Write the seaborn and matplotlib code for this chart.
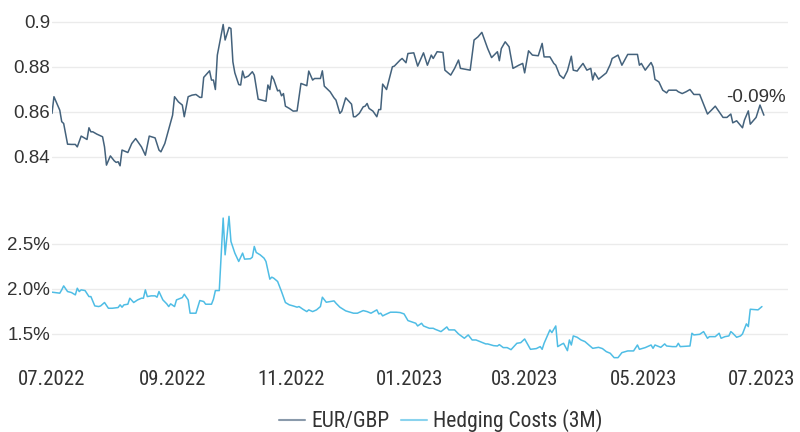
import matplotlib
matplotlib.use("Agg")
import matplotlib.pyplot as plt
from matplotlib.lines import Line2D
import pandas as pd
import seaborn as sns
import warnings
warnings.filterwarnings("ignore")

# ---------------- data ----------------
start_date = "2022-07-01"

eurgbp_days = [0, 1, 4, 5, 6, 8, 10, 12, 13, 15, 18, 19, 20, 21, 23, 26, 27, 28, 30, 32,
               33, 34, 35, 36, 39, 41, 43, 46, 48, 50, 53, 55, 56, 58, 62, 63, 65, 67, 68, 70,
               72, 74, 76, 77, 78, 81, 82, 83, 84, 85, 88, 89, 91, 92, 93, 94, 96, 97, 98, 99,
               101, 103, 104, 106, 109, 110, 111, 112, 113, 114, 116, 117, 118, 119, 120, 122, 124, 126, 128, 130,
               131, 132, 134, 135, 138, 139, 140, 143, 145, 146, 148, 149, 151, 154, 155, 156, 158, 160, 161, 162,
               163, 165, 167, 168, 169, 170, 172, 175, 176, 179,
               180, 182, 183, 186, 188, 191, 193, 195, 196, 198, 201, 202, 205, 207, 209, 210, 215, 217, 219, 221,
               224, 226, 229, 230, 231, 233, 235, 237, 240, 242, 243, 245, 247, 250, 252, 253, 256, 258, 259, 261,
               263, 265, 267, 268, 270, 271, 273, 275, 277, 278, 279, 281, 283, 285, 287, 288, 291, 293, 296, 301,
               302, 303, 305, 308, 309, 310, 312, 313, 314, 316, 317, 321, 322, 324, 326, 328, 330, 333, 335, 337,
               339, 341, 343, 345, 347, 349, 350, 352, 355, 356, 358, 359, 362, 364, 366]

eurgbp_values = [0.8593, 0.8667, 0.8607, 0.8556, 0.8548, 0.8456, 0.8455, 0.8455, 0.8444, 0.8492,
                 0.8477, 0.8529, 0.8511, 0.8511, 0.8501, 0.8489, 0.8444, 0.8363, 0.8404, 0.8382,
                 0.8375, 0.8378, 0.8360, 0.8430, 0.8419, 0.8459, 0.8481, 0.8444, 0.8407, 0.8492,
                 0.8484, 0.8430, 0.8422, 0.8459, 0.8585, 0.8667, 0.8644, 0.8630, 0.8578, 0.8667,
                 0.8674, 0.8677, 0.8664, 0.8664, 0.8753, 0.8782, 0.8741, 0.8741, 0.8699, 0.8852,
                 0.8988, 0.8919, 0.8975, 0.8970, 0.8822, 0.8773, 0.8721, 0.8719, 0.8781, 0.8751,
                 0.8759, 0.8778, 0.8763, 0.8656, 0.8649, 0.8647, 0.8719, 0.8699, 0.8759, 0.8744,
                 0.8693, 0.8696, 0.8671, 0.8681, 0.8625, 0.8615, 0.8603, 0.8604, 0.8726, 0.8719,
                 0.8716, 0.8781, 0.8741, 0.8748, 0.8748, 0.8782, 0.8714, 0.8689, 0.8662, 0.8652,
                 0.8593, 0.8603, 0.8662, 0.8634, 0.8578, 0.8578, 0.8593, 0.8622, 0.8625, 0.8637,
                 0.8615, 0.8603, 0.8578, 0.8610, 0.8610, 0.8723, 0.8699, 0.8800, 0.8803, 0.8830,
                 0.8837, 0.8818, 0.8859, 0.8862, 0.8803, 0.8862, 0.8807, 0.8852, 0.8837, 0.8867,
                 0.8864, 0.8785, 0.8763, 0.8793, 0.8830, 0.8793, 0.8785, 0.8919, 0.8933, 0.8953,
                 0.8881, 0.8841, 0.8867, 0.8827, 0.8881, 0.8911, 0.8889, 0.8793, 0.8807, 0.8815,
                 0.8773, 0.8871, 0.8852, 0.8849, 0.8904, 0.8844, 0.8844, 0.8815, 0.8807, 0.8763,
                 0.8748, 0.8782, 0.8847, 0.8785, 0.8781, 0.8793, 0.8815, 0.8785, 0.8793, 0.8741,
                 0.8773, 0.8745, 0.8759, 0.8773, 0.8810, 0.8837, 0.8852, 0.8807, 0.8855, 0.8855,
                 0.8807, 0.8815, 0.8785, 0.8819, 0.8800, 0.8744, 0.8733, 0.8714, 0.8696, 0.8684,
                 0.8696, 0.8696, 0.8689, 0.8681, 0.8689, 0.8699, 0.8677, 0.8677, 0.8633, 0.8590,
                 0.8607, 0.8625, 0.8600, 0.8575, 0.8575, 0.8590, 0.8551, 0.8560, 0.8529, 0.8563,
                 0.8604, 0.8545, 0.8575, 0.8630, 0.8585]

hedge_days = [0, 4, 5, 6, 8, 10, 12, 13, 14, 15, 17, 19, 20, 22, 24, 25, 27, 29, 31, 34,
              35, 36, 37, 39, 40, 42, 44, 46, 47, 48, 49, 51, 53, 54, 55, 57, 59, 60, 61, 63,
              64, 67, 68, 70, 71, 74, 76, 78, 79, 82, 83, 84, 86, 88, 89, 91, 92, 94, 96, 98,
              99, 102, 103, 104, 105, 107, 109, 110, 112, 113, 114, 116, 118, 120, 122, 124, 126, 127, 129, 131,
              132, 134, 136, 138, 139, 141, 143, 145, 146, 148, 151, 155, 157, 160, 162, 164, 167, 168, 169, 170,
              171, 174, 177, 179,
              181, 183, 187, 188, 190, 191, 194, 196, 197, 200, 203, 204, 207, 209, 212, 214, 216, 218, 223, 224,
              227, 229, 230, 232, 234, 236, 239, 241, 243, 246, 249, 251, 252, 253, 256, 257, 259, 260, 262, 263,
              265, 266, 267, 268, 270, 272, 274, 276, 278, 281, 283, 285, 287, 289, 291, 293, 296, 299, 301, 302,
              305, 308, 309, 310, 313, 315, 316, 319, 321, 322, 323, 328, 329, 330, 333, 335, 337, 338, 341, 343,
              344, 346, 348, 349, 350, 352, 354, 355, 357, 358, 359, 363, 365]

hedge_pct = [1.963, 1.952, 1.989, 2.033, 1.970, 1.959, 1.933, 2.007, 1.970, 1.989,
             1.981, 1.914, 1.914, 1.810, 1.803, 1.810, 1.848, 1.784, 1.784, 1.792,
             1.822, 1.796, 1.822, 1.829, 1.896, 1.848, 1.877, 1.896, 1.896, 1.989,
             1.914, 1.922, 1.922, 1.907, 1.970, 1.877, 1.833, 1.803, 1.833, 1.803,
             1.877, 1.903, 1.940, 1.877, 1.729, 1.729, 1.870, 1.859, 1.829, 1.829,
             1.885, 1.981, 1.981, 2.788, 2.379, 2.807, 2.528, 2.398, 2.305, 2.398,
             2.331, 2.335, 2.353, 2.472, 2.405, 2.379, 2.342, 2.305, 2.108, 2.130,
             2.119, 2.082, 1.970, 1.848, 1.822, 1.810, 1.796, 1.803, 1.773, 1.747,
             1.766, 1.747, 1.766, 1.803, 1.907, 1.851, 1.859, 1.866, 1.840, 1.796,
             1.755, 1.729, 1.729, 1.758, 1.747, 1.729, 1.766, 1.721, 1.729, 1.699,
             1.710, 1.740, 1.740, 1.736,
             1.721, 1.647, 1.617, 1.587, 1.617, 1.587, 1.561, 1.561, 1.550, 1.524,
             1.576, 1.543, 1.543, 1.498, 1.450, 1.487, 1.431, 1.431, 1.387, 1.387,
             1.368, 1.364, 1.379, 1.346, 1.346, 1.323, 1.394, 1.401, 1.442, 1.327,
             1.335, 1.357, 1.327, 1.394, 1.543, 1.513, 1.587, 1.357, 1.383, 1.394,
             1.312, 1.431, 1.375, 1.476, 1.461, 1.431, 1.413, 1.375, 1.338, 1.349,
             1.335, 1.301, 1.283, 1.234, 1.234, 1.290, 1.309, 1.309, 1.375, 1.327,
             1.346, 1.375, 1.338, 1.375, 1.349, 1.387, 1.364, 1.357, 1.357, 1.394,
             1.357, 1.364, 1.506, 1.487, 1.494, 1.524, 1.450, 1.468, 1.468, 1.506,
             1.450, 1.468, 1.476, 1.524, 1.506, 1.461, 1.476, 1.498, 1.610, 1.580,
             1.773, 1.766, 1.803]

series_names = ["EUR/GBP", "Hedging Costs (3M)"]
x_tick_dates = ["2022-07-01", "2022-09-01", "2022-11-01", "2023-01-01",
                "2023-03-01", "2023-05-01", "2023-07-01"]
x_tick_labels = ["07.2022", "09.2022", "11.2022", "01.2023", "03.2023", "05.2023", "07.2023"]
fx_ticks = [0.84, 0.86, 0.88, 0.9]
fx_tick_labels = ["0.84", "0.86", "0.88", "0.9"]
hedge_ticks = [1.5, 2.0, 2.5]
hedge_tick_labels = ["1.5%", "2.0%", "2.5%"]
last_change_label = "-0.09%"

# ---------------- style ----------------
fx_color = "#44627c"
hedge_color = "#4fbde5"
fx_legend_color = "#8a9aab"
hedge_legend_color = "#8ad3ee"
text_color = "#333333"
grid_color = "#ebebeb"

sns.set_style("white")
plt.rcParams["font.family"] = ["Liberation Sans", "DejaVu Sans"]
narrow = ["Liberation Sans Narrow", "Arial Narrow", "Roboto Condensed",
          "Archivo Narrow", "Liberation Sans", "DejaVu Sans"]

t0 = pd.Timestamp(start_date)
fx_df = pd.DataFrame({"date": t0 + pd.to_timedelta(eurgbp_days, unit="D"),
                      "value": eurgbp_values})
hd_df = pd.DataFrame({"date": t0 + pd.to_timedelta(hedge_days, unit="D"),
                      "value": hedge_pct})

fig = plt.figure(figsize=(8, 4.32), dpi=100)
ax1 = fig.add_axes([0.065, 0.598, 0.92, 0.3776])
ax2 = fig.add_axes([0.065, 0.165, 0.92, 0.3535])

sns.lineplot(data=fx_df, x="date", y="value", ax=ax1, color=fx_color, linewidth=1.1)
sns.lineplot(data=hd_df, x="date", y="value", ax=ax2, color=hedge_color, linewidth=1.1)

xmin = t0
xmax = t0 + pd.Timedelta(days=378.4)
for ax in (ax1, ax2):
    ax.set_xlim(xmin, xmax)
    ax.set_xlabel("")
    ax.set_ylabel("")
    for s in ax.spines.values():
        s.set_visible(False)
    ax.grid(axis="y", color=grid_color, linewidth=1.0)
    ax.grid(axis="x", visible=False)
    ax.set_axisbelow(True)
    ax.tick_params(length=0, colors=text_color)

ax1.set_ylim(0.8325, 0.905)
ax1.set_yticks(fx_ticks)
ax1.set_yticklabels(fx_tick_labels, fontsize=13.5, color=text_color)
ax1.set_xticks([pd.Timestamp(d) for d in x_tick_dates])
ax1.set_xticklabels([])
ax1.tick_params(axis="y", pad=1.5)

ax2.set_ylim(1.2, 2.9)
ax2.set_yticks(hedge_ticks)
ax2.set_yticklabels(hedge_tick_labels, fontsize=13.5, color=text_color)
ax2.set_xticks([pd.Timestamp(d) for d in x_tick_dates])
ax2.set_xticklabels(x_tick_labels, fontsize=15, color=text_color, family=narrow)
ax2.tick_params(axis="y", pad=1.5)
ax2.tick_params(axis="x", pad=6.5)

# annotation at last EUR/GBP point
last = fx_df.iloc[-1]
ax1.annotate(last_change_label, xy=(last["date"], last["value"]),
             xytext=(16, 13), textcoords="offset points",
             ha="right", va="center", fontsize=13.5, color=text_color)

handles = [Line2D([0], [0], color=fx_legend_color, linewidth=1.5),
           Line2D([0], [0], color=hedge_legend_color, linewidth=1.5)]
fig.legend(handles, series_names, loc="center", bbox_to_anchor=(0.551, 0.026),
           ncol=2, frameon=False, handlelength=1.2, handletextpad=0.3,
           columnspacing=0.55, borderpad=0, prop={"family": narrow, "size": 15.5},
           labelcolor=text_color)

fig.savefig("out.png", dpi=100)
